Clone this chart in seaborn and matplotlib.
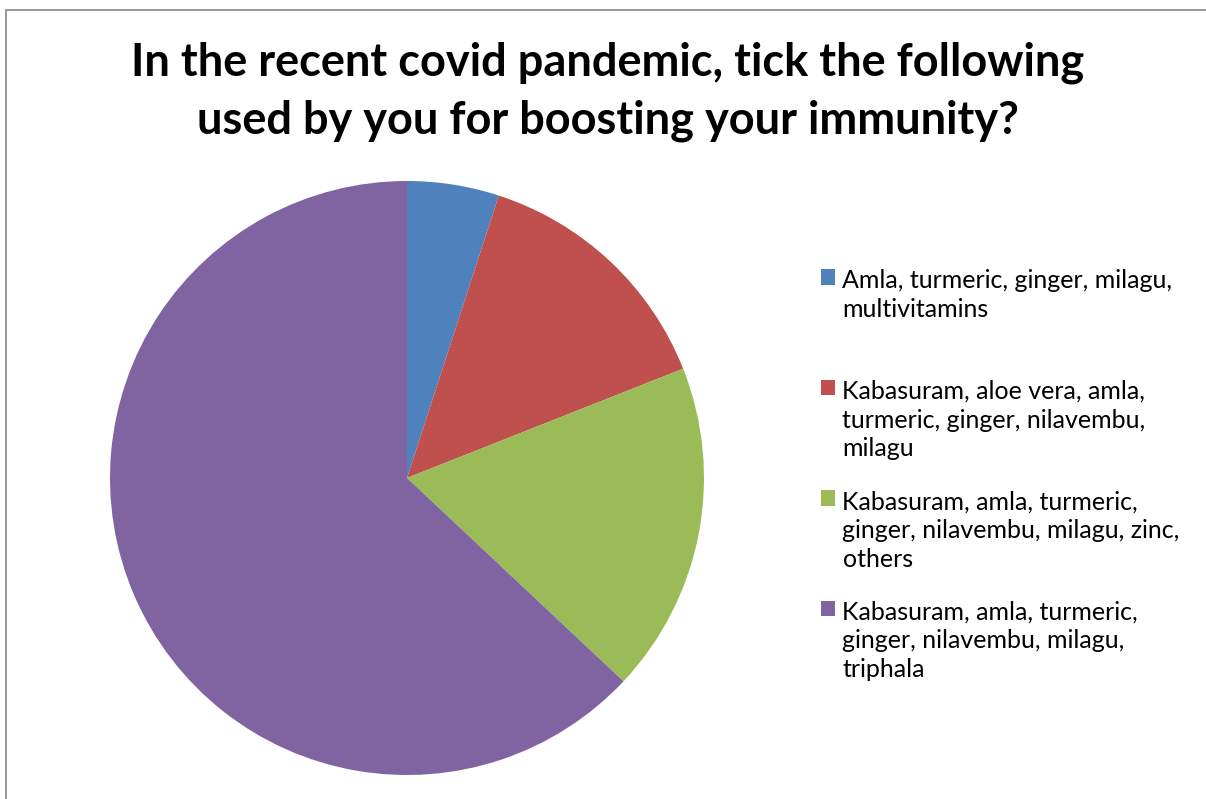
import matplotlib
matplotlib.use("Agg")
import matplotlib.pyplot as plt
import seaborn as sns

sns.set_style("white")
plt.rcParams['font.family'] = ['Lato', 'DejaVu Sans']
plt.rcParams['text.color'] = 'black'

# Data (percent of respondents)
categories = [
    "Amla, turmeric, ginger, milagu,\nmultivitamins\n",
    "Kabasuram, aloe vera, amla,\nturmeric, ginger, nilavembu,\nmilagu",
    "Kabasuram, amla, turmeric,\nginger, nilavembu, milagu, zinc,\nothers",
    "Kabasuram, amla, turmeric,\nginger, nilavembu, milagu,\ntriphala",
]
shares = [5, 14, 18, 63]
colors = sns.color_palette(["#4F81BD", "#C0504D", "#9BBB59", "#8064A2"])

fig = plt.figure(figsize=(12.06, 7.99), dpi=100)

# thin grey chart-area border (cut off at right and bottom like the source)
fig.patches.append(plt.Rectangle((6 / 1206, -0.05), 1.1, 1 - 10 / 799 + 0.05,
                                 transform=fig.transFigure, fill=False,
                                 edgecolor="#888888", linewidth=1.2))

ax = fig.add_axes([110 / 1206, 24 / 799, 594 / 1206, 594 / 799])
wedges, _ = ax.pie(shares, colors=colors, startangle=90, counterclock=False,
                   wedgeprops=dict(linewidth=0))
ax.set_xlim(-1, 1)
ax.set_ylim(-1, 1)
ax.set_aspect("equal")

fig.suptitle("In the recent covid pandemic, tick the following\nused by you for boosting your immunity?",
             x=608 / 1206, y=1 - 41 / 799, fontsize=32.5, fontweight="bold",
             linespacing=1.47, va="top", color="black")

leg = fig.legend(wedges, categories, loc="upper left",
                 bbox_to_anchor=(798 / 1206, 1 - 247 / 799), frameon=False,
                 fontsize=18, handlelength=0.56, handleheight=0.56,
                 handletextpad=0.32, labelspacing=1.2)
for t in leg.get_texts():
    t.set_linespacing(1.3)
# put the colour square next to the first line of each label
for col in leg._legend_handle_box.get_children():
    for row in col.get_children():
        row.align = "top"

fig.savefig("out.png", dpi=100)
